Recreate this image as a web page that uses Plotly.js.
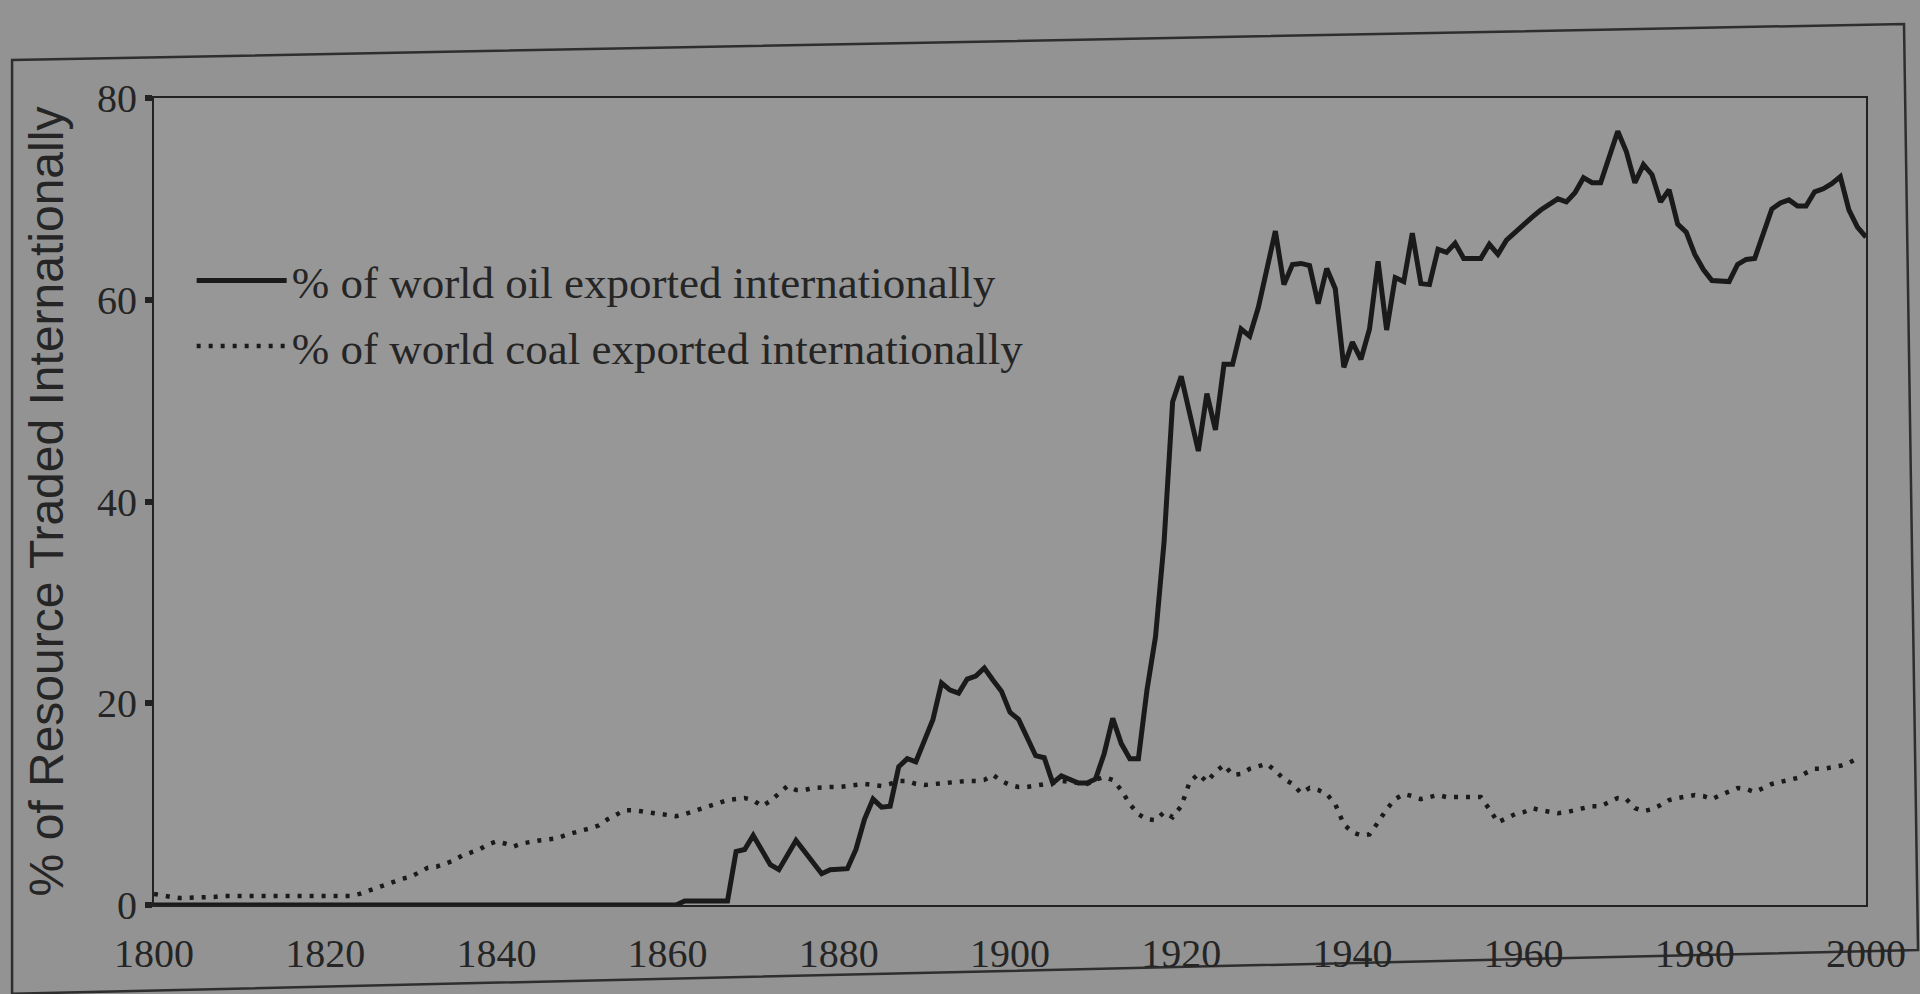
<!DOCTYPE html>
<html>
<head>
<meta charset="utf-8">
<script src="https://cdn.plot.ly/plotly-3.0.1.min.js"></script>
<style>
html,body{margin:0;padding:0;background:#939393;}
#chart{width:1920px;height:994px;}
</style>
</head>
<body>
<div id="chart"></div>
<script>
// Years 1800-2000
const years = [
1800,1801,1802,1803,1804,1805,1806,1807,1808,1809,
1810,1811,1812,1813,1814,1815,1816,1817,1818,1819,
1820,1821,1822,1823,1824,1825,1826,1827,1828,1829,
1830,1831,1832,1833,1834,1835,1836,1837,1838,1839,
1840,1841,1842,1843,1844,1845,1846,1847,1848,1849,
1850,1851,1852,1853,1854,1855,1856,1857,1858,1859,
1860,1861,1862,1863,1864,1865,1866,1867,1868,1869,
1870,1871,1872,1873,1874,1875,1876,1877,1878,1879,
1880,1881,1882,1883,1884,1885,1886,1887,1888,1889,
1890,1891,1892,1893,1894,1895,1896,1897,1898,1899,
1900,1901,1902,1903,1904,1905,1906,1907,1908,1909,
1910,1911,1912,1913,1914,1915,1916,1917,1918,1919,
1920,1921,1922,1923,1924,1925,1926,1927,1928,1929,
1930,1931,1932,1933,1934,1935,1936,1937,1938,1939,
1940,1941,1942,1943,1944,1945,1946,1947,1948,1949,
1950,1951,1952,1953,1954,1955,1956,1957,1958,1959,
1960,1961,1962,1963,1964,1965,1966,1967,1968,1969,
1970,1971,1972,1973,1974,1975,1976,1977,1978,1979,
1980,1981,1982,1983,1984,1985,1986,1987,1988,1989,
1990,1991,1992,1993,1994,1995,1996,1997,1998,1999,
2000];

// % of world oil exported internationally (1800-2000)
const oilPct = [
0,0,0,0,0,0,0,0,0,0,
0,0,0,0,0,0,0,0,0,0,
0,0,0,0,0,0,0,0,0,0,
0,0,0,0,0,0,0,0,0,0,
0,0,0,0,0,0,0,0,0,0,
0,0,0,0,0,0,0,0,0,0,
0,0,0.4,0.4,0.4,0.4,0.4,0.4,5.3,5.5,
6.9,5.5,4.0,3.5,5.0,6.4,5.3,4.2,3.1,3.5,
3.5,3.6,5.5,8.5,10.5,9.7,9.8,13.7,14.5,14.2,
16.3,18.4,22.0,21.3,21.0,22.4,22.7,23.5,22.3,21.2,
19.1,18.4,16.6,14.8,14.6,12.1,12.8,12.4,12.1,12.1,
12.5,15.0,18.5,16.0,14.5,14.5,21.3,26.6,36.0,49.9,
52.4,48.7,45.0,50.7,47.1,53.6,53.6,57.1,56.4,59.2,
63.0,66.8,61.5,63.5,63.6,63.4,59.6,63.1,61.1,53.3,
55.8,54.1,57.1,63.8,57.0,62.2,61.8,66.6,61.6,61.5,
65.0,64.7,65.6,64.1,64.1,64.1,65.5,64.5,65.9,66.7,
67.5,68.2,68.9,69.5,70.0,69.7,70.6,72.1,71.6,71.6,
74.0,76.7,74.7,71.6,73.4,72.4,69.7,70.9,67.5,66.7,
64.5,63.0,61.9,61.8,61.8,63.5,64.0,64.1,66.5,69.0,
69.6,69.9,69.3,69.3,70.7,71.0,71.5,72.2,68.9,67.2,
66.2];

// % of world coal exported internationally (1800-1999)
const coalPct = [
1.1,0.9,0.8,0.7,0.7,0.7,0.7,0.8,0.9,0.9,
0.9,0.9,0.9,0.9,0.9,0.9,0.9,0.9,0.9,0.9,
0.9,0.9,0.9,0.9,1.1,1.4,1.8,2.0,2.4,2.6,
2.8,3.3,3.7,3.8,4.1,4.4,4.9,5.2,5.5,6.0,
6.3,6.1,5.8,6.1,6.3,6.4,6.5,6.6,6.9,7.2,
7.4,7.6,7.9,8.5,9.0,9.4,9.4,9.3,9.1,9.0,
9.0,8.8,9.0,9.3,9.6,9.8,10.2,10.4,10.5,10.6,
10.4,9.8,10.3,11.0,11.8,11.4,11.4,11.6,11.7,11.7,
11.7,11.8,11.9,12.0,11.9,11.8,12.0,12.3,12.3,12.0,
11.9,12.0,12.1,12.2,12.3,12.3,12.3,12.4,12.9,12.3,
11.9,11.7,11.7,11.8,11.9,12.1,12.3,12.2,12.1,12.0,
12.4,12.7,12.4,11.4,10.0,9.0,8.5,8.4,9.2,8.7,
9.8,12.2,13.0,12.2,13.2,13.9,12.9,13.0,13.5,13.7,
14.0,13.3,12.5,12.0,11.1,11.6,11.4,11.0,10.0,8.0,
7.2,6.9,7.0,8.2,9.5,10.5,11.0,10.8,10.5,10.7,
10.9,10.7,10.7,10.7,10.8,10.7,9.5,8.2,8.6,9.0,
9.2,9.6,9.4,9.2,9.1,9.2,9.4,9.7,9.8,9.8,
10.2,10.6,10.5,9.6,9.3,9.5,9.9,10.4,10.6,10.8,
10.9,10.8,10.5,10.9,11.3,11.6,11.5,11.2,11.6,12.0,
12.2,12.4,12.6,13.1,13.5,13.5,13.6,13.8,14.1,14.5];

const xTickVals = [1800,1820,1840,1860,1880,1900,1920,1940,1960,1980,2000];
const yTickVals = [0,20,40,60,80];
const seriesNames = ['% of world oil exported internationally', '% of world coal exported internationally'];
const yTitle = '% of Resource Traded Internationally';

const ink = '#1a1a1a';
const textInk = '#252525';

const traces = [
  {
    x: years, y: oilPct, type: 'scatter', mode: 'lines',
    name: seriesNames[0], legendgroup: 'oil',
    line: {color: ink, width: 5},
    hoverinfo: 'x+y'
  },
  {
    x: years.slice(0, coalPct.length), y: coalPct, type: 'scatter', mode: 'lines',
    name: seriesNames[1], legendgroup: 'coal',
    line: {color: ink, width: 4.5, dash: '4px,8px'},
    hoverinfo: 'x+y'
  }
];

const layout = {
  width: 1920, height: 994,
  paper_bgcolor: '#939393',
  plot_bgcolor: '#979797',
  margin: {l: 154, r: 54, t: 98, b: 89, autoexpand: false},
  showlegend: true,
  legend: {
    x: 0.022, y: 0.818, xanchor: 'left', yanchor: 'top',
    bgcolor: 'rgba(0,0,0,0)', borderwidth: 0,
    font: {family: 'Liberation Serif', size: 45, color: textInk},
    itemwidth: 90, traceorder: 'grouped', tracegroupgap: 4
  },
  xaxis: {
    range: [1800, 2000], tickvals: xTickVals,
    showline: true, mirror: true, linecolor: '#222', linewidth: 2,
    ticks: '', showgrid: false, zeroline: false,
    tickfont: {family: 'Liberation Serif', size: 40, color: textInk},
    ticklabelstandoff: 12, automargin: false
  },
  yaxis: {
    range: [0, 80], tickvals: yTickVals,
    showline: true, mirror: true, linecolor: '#222', linewidth: 2,
    ticks: 'outside', ticklen: 7, tickwidth: 6, tickcolor: '#222',
    showgrid: false, zeroline: false,
    tickfont: {family: 'Liberation Serif', size: 40, color: textInk},
    automargin: false,
    title: {text: yTitle, font: {family: 'Liberation Sans', size: 48, color: textInk}, standoff: 18}
  },
  shapes: [
    {
      type: 'path', xref: 'paper', yref: 'paper',
      path: 'M -0.0829,1.047 L 1.0222,1.0917 L 1.0304,-0.0558 L -0.0829,-0.110 Z',
      line: {color: '#2e2e2e', width: 2.5}, fillcolor: 'rgba(0,0,0,0)', layer: 'below'
    }
  ]
};

Plotly.newPlot('chart', traces, layout, {displayModeBar: false, staticPlot: true});
</script>
</body>
</html>
